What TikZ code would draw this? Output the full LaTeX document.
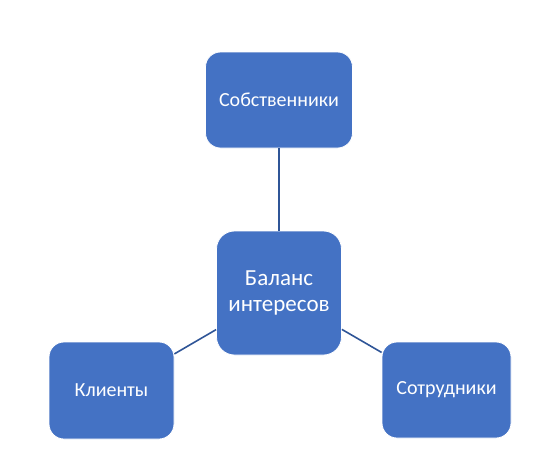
\documentclass[tikz,border=0pt]{standalone}
\usepackage{fontspec}
\setmainfont{Carlito}
\usepackage{xcolor}
\usetikzlibrary{positioning}
\definecolor{boxblue}{HTML}{4472C4}
\definecolor{lineblue}{HTML}{2F5597}
\tikzset{every node/.style={align=center}}

\begin{document}
\begin{tikzpicture}[
    x=1pt, y=-1pt,
    part/.style={draw=white, line width=0.8pt, fill=boxblue, text=white, rounded corners=15pt, font=\fontsize{20}{24}\selectfont},
    link/.style={draw=lineblue, line width=1.6pt}
]
  \useasboundingbox (0,0) rectangle (536,453);
  % Boxes
  \node (own) at (279,100) [part, minimum width=147pt, minimum height=96pt] {Собственники};
  \node (bal) at (279,293) [part, minimum width=125pt, minimum height=124pt, rounded corners=18pt, font=\fontsize{23}{26}\selectfont] {Баланс\\интересов};
  \node (cli) at (111.5,390.5) [part, minimum width=125pt, minimum height=97pt] {Клиенты};
  \node (emp) at (446.5,390) [part, minimum width=129pt, minimum height=96pt] {Сотрудники};
  % Links
  \draw[link] (own) -- (bal);
  \draw[link] (bal) -- (cli);
  \draw[link] (bal) -- (emp);
\end{tikzpicture}
\end{document}
